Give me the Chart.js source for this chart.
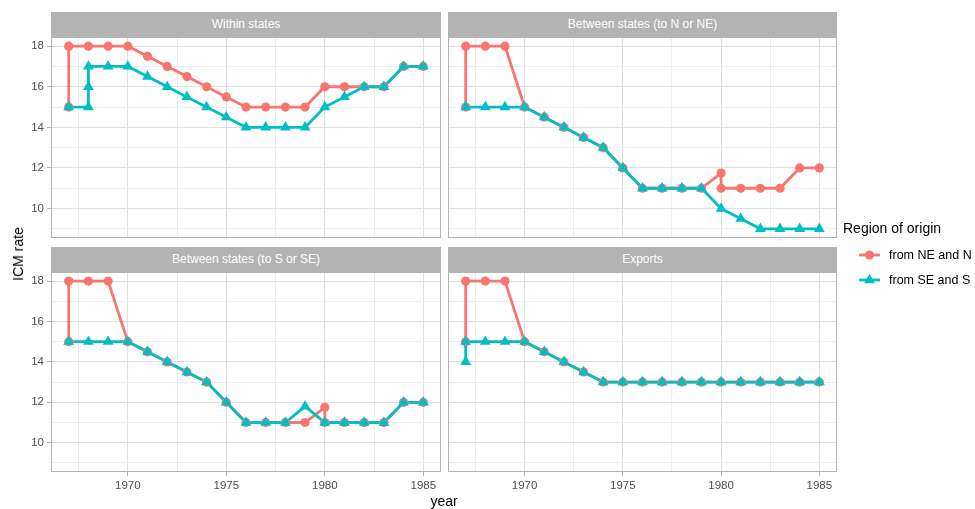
<!DOCTYPE html>
<html>
<head>
<meta charset="utf-8">
<title>ICM rate by year and region of origin</title>
<script src="https://cdn.jsdelivr.net/npm/chart.js@4.4.0/dist/chart.umd.min.js"></script>
<style>
  html, body { margin: 0; padding: 0; background: #ffffff; }
  body { position: relative; width: 975px; height: 509px; overflow: hidden;
         font-family: "Liberation Sans", Arial, Helvetica, sans-serif; }
  canvas { position: absolute; }
  .strip { position: absolute; z-index: 2; height: 25px; line-height: 25px;
           background: #b3b3b3; color: #ffffff; font-size: 12px; text-align: center; }
  .axis-title { position: absolute; color: #000000; font-size: 14px; white-space: nowrap; }
  #legend { position: absolute; left: 843px; top: 219px; width: 140px; }
  #legend .title { font-size: 14px; color: #000; height: 18px; line-height: 18px; }
  #legend .item { position: absolute; left: 0; width: 140px; height: 20px; }
  #legend .item span { position: absolute; left: 46px; top: 2px; font-size: 12.5px; line-height: 16px; color: #000; white-space: nowrap; }
  #legend svg { position: absolute; left: 0; top: 0; }
</style>
</head>
<body>

<!-- facet strips -->
<div class="strip" id="strip0" style="left:51px; top:12px; width:390px;"></div>
<div class="strip" id="strip1" style="left:448px; top:12px; width:389px;"></div>
<div class="strip" id="strip2" style="left:51px; top:247px; width:390px;"></div>
<div class="strip" id="strip3" style="left:448px; top:247px; width:389px;"></div>

<canvas id="panel0" width="453" height="225" style="left:0px; top:25px;"></canvas>
<canvas id="panel1" width="417" height="225" style="left:432px; top:25px;"></canvas>
<canvas id="panel2" width="453" height="249" style="left:0px; top:260px;"></canvas>
<canvas id="panel3" width="417" height="249" style="left:432px; top:260px;"></canvas>

<div class="axis-title" id="ytitle" style="left:18px; top:254px; transform: translate(-50%, -50%) rotate(-90deg);"></div>
<div class="axis-title" id="xtitle" style="left:444px; top:501px; transform: translate(-50%, -50%);"></div>

<div id="legend">
  <div class="title" id="legendTitle"></div>
  <div class="item" style="top:26px;">
    <svg width="40" height="20">
      <line x1="16" y1="10" x2="37" y2="10" stroke="#F8766D" stroke-width="2.8"/>
      <circle cx="26.5" cy="10" r="4.6" fill="#F8766D"/>
    </svg>
    <span id="legend0"></span>
  </div>
  <div class="item" style="top:51px;">
    <svg width="40" height="20">
      <line x1="16" y1="10" x2="37" y2="10" stroke="#00BFC4" stroke-width="2.8"/>
      <polygon points="26.5,3.7 21.04,13.15 31.96,13.15" fill="#00BFC4"/>
    </svg>
    <span id="legend1"></span>
  </div>
</div>

<script>
// ---- data: [year, ICM rate] in drawing order (repeated years give vertical steps) ----
const panelTitles = ['Within states', 'Between states (to N or NE)', 'Between states (to S or SE)', 'Exports'];
const seriesNames = ['from NE and N', 'from SE and S'];
const seriesColors = ['#F8766D', '#00BFC4'];
const legendTitle = 'Region of origin';
const xTitle = 'year';
const yTitle = 'ICM rate';

const yearTicks = [1970, 1975, 1980, 1985];
const rateTicks = [10, 12, 14, 16, 18];
const yearLimits = [1966.1, 1985.9];
const rateLimits = [8.55, 18.45];

const withinNorth = [[1967,15],[1967,18],[1968,18],[1969,18],[1970,18],[1971,17.5],[1972,17],[1973,16.5],
  [1974,16],[1975,15.5],[1976,15],[1977,15],[1978,15],[1979,15],[1980,16],[1981,16],[1982,16],[1983,16],
  [1984,17],[1985,17]];
const withinSouth = [[1967,15],[1968,15],[1968,16],[1968,17],[1969,17],[1970,17],[1971,16.5],[1972,16],
  [1973,15.5],[1974,15],[1975,14.5],[1976,14],[1977,14],[1978,14],[1979,14],[1980,15],[1981,15.5],
  [1982,16],[1983,16],[1984,17],[1985,17]];

const toNorthNorth = [[1967,15],[1967,18],[1968,18],[1969,18],[1970,15],[1971,14.5],[1972,14],[1973,13.5],
  [1974,13],[1975,12],[1976,11],[1977,11],[1978,11],[1979,11],[1980,11.75],[1980,11],[1981,11],[1982,11],
  [1983,11],[1984,12],[1985,12]];
const toNorthSouth = [[1967,15],[1968,15],[1969,15],[1970,15],[1971,14.5],[1972,14],[1973,13.5],[1974,13],
  [1975,12],[1976,11],[1977,11],[1978,11],[1979,11],[1980,10],[1981,9.5],[1982,9],[1983,9],[1984,9],[1985,9]];

const toSouthNorth = [[1967,15],[1967,18],[1968,18],[1969,18],[1970,15],[1971,14.5],[1972,14],[1973,13.5],
  [1974,13],[1975,12],[1976,11],[1977,11],[1978,11],[1979,11],[1980,11.75],[1980,11],[1981,11],[1982,11],
  [1983,11],[1984,12],[1985,12]];
const toSouthSouth = [[1967,15],[1968,15],[1969,15],[1970,15],[1971,14.5],[1972,14],[1973,13.5],[1974,13],
  [1975,12],[1976,11],[1977,11],[1978,11],[1979,11.8],[1980,11],[1981,11],[1982,11],[1983,11],[1984,12],[1985,12]];

const exportsNorth = [[1967,15],[1967,18],[1968,18],[1969,18],[1970,15],[1971,14.5],[1972,14],[1973,13.5],
  [1974,13],[1975,13],[1976,13],[1977,13],[1978,13],[1979,13],[1980,13],[1981,13],[1982,13],[1983,13],
  [1984,13],[1985,13]];
const exportsSouth = [[1967,14],[1967,15],[1968,15],[1969,15],[1970,15],[1971,14.5],[1972,14],[1973,13.5],
  [1974,13],[1975,13],[1976,13],[1977,13],[1978,13],[1979,13],[1980,13],[1981,13],[1982,13],[1983,13],
  [1984,13],[1985,13]];

const panelSeries = [
  [withinNorth, withinSouth],
  [toNorthNorth, toNorthSouth],
  [toSouthNorth, toSouthSouth],
  [exportsNorth, exportsSouth]
];

// ---- text ----
panelTitles.forEach((t, i) => { document.getElementById('strip' + i).textContent = t; });
document.getElementById('xtitle').textContent = xTitle;
document.getElementById('ytitle').textContent = yTitle;
document.getElementById('legendTitle').textContent = legendTitle;
seriesNames.forEach((t, i) => { document.getElementById('legend' + i).textContent = t; });

// ---- helpers ----
function withMinor(majors, lo, hi) {
  const step = majors[1] - majors[0];
  const all = majors.slice();
  majors.forEach(m => all.push(m - step / 2));
  all.push(majors[majors.length - 1] + step / 2);
  return all.filter(v => v >= lo && v <= hi).sort((a, b) => a - b);
}
const yearGrid = withMinor(yearTicks, yearLimits[0], yearLimits[1]);
const rateGrid = withMinor(rateTicks, rateLimits[0], rateLimits[1]);

const asPoints = pairs => pairs.map(([x, y]) => ({ x, y }));

const panelBorder = {
  id: 'panelBorder',
  afterDraw(chart) {
    const a = chart.chartArea, ctx = chart.ctx;
    ctx.save();
    ctx.strokeStyle = '#b3b3b3';
    ctx.lineWidth = 1;
    ctx.strokeRect(a.left + 0.5, a.top + 0.5, a.right - a.left - 1, a.bottom - a.top - 1);
    ctx.restore();
  }
};

const tickFont = { family: '"Liberation Sans", Arial, sans-serif', size: 11.5 };

function makePanel(index, showXLabels, showYLabels) {
  const [north, south] = panelSeries[index];
  const lineWidth = 2.8;
  const datasets = [
    { data: asPoints(north), showLine: true, borderColor: seriesColors[0], borderWidth: lineWidth,
      pointRadius: 0, order: 4, tension: 0 },
    { data: asPoints(south), showLine: true, borderColor: seriesColors[1], borderWidth: lineWidth,
      pointRadius: 0, order: 3, tension: 0 },
    { data: asPoints(north), showLine: false, pointStyle: 'circle', pointRadius: 4.6,
      backgroundColor: seriesColors[0], pointBorderWidth: 0, order: 2 },
    { data: asPoints(south), showLine: false, pointStyle: 'triangle', pointRadius: 6.3,
      backgroundColor: seriesColors[1], pointBorderWidth: 0, order: 1 }
  ];

  const gridStyle = (majors) => ({
    color: ctx => majors.includes(ctx.tick.value) ? '#dedede' : '#eeeeee',
    lineWidth: 1,
    tickColor: ctx => majors.includes(ctx.tick.value) ? '#b3b3b3' : 'rgba(0,0,0,0)',
    tickLength: 4
  });

  new Chart(document.getElementById('panel' + index), {
    type: 'scatter',
    data: { datasets },
    options: {
      responsive: false,
      animation: false,
      devicePixelRatio: 1,
      events: [],
      layout: { padding: { top: 12, right: 12, left: showYLabels ? 0 : 16, bottom: showXLabels ? 0 : 12 } },
      plugins: { legend: { display: false }, tooltip: { enabled: false } },
      scales: {
        x: {
          type: 'linear', min: yearLimits[0], max: yearLimits[1],
          afterBuildTicks: s => { s.ticks = yearGrid.map(v => ({ value: v })); },
          afterFit: s => { s.height = showXLabels ? 37 : 0; },
          grid: Object.assign(gridStyle(yearTicks), { drawTicks: showXLabels }),
          border: { display: false },
          ticks: {
            display: showXLabels, autoSkip: false, maxRotation: 0, padding: 3,
            color: '#4d4d4d', font: tickFont,
            callback: v => yearTicks.includes(v) ? String(v) : ''
          }
        },
        y: {
          type: 'linear', min: rateLimits[0], max: rateLimits[1],
          afterBuildTicks: s => { s.ticks = rateGrid.map(v => ({ value: v })); },
          afterFit: s => { s.width = showYLabels ? 51 : 0; },
          grid: Object.assign(gridStyle(rateTicks), { drawTicks: showYLabels }),
          border: { display: false },
          ticks: {
            display: showYLabels, autoSkip: false, padding: 3,
            color: '#4d4d4d', font: tickFont,
            callback: v => rateTicks.includes(v) ? String(v) : ''
          }
        }
      }
    },
    plugins: [panelBorder]
  });
}

makePanel(0, false, true);
makePanel(1, false, false);
makePanel(2, true, true);
makePanel(3, true, false);
</script>
</body>
</html>
